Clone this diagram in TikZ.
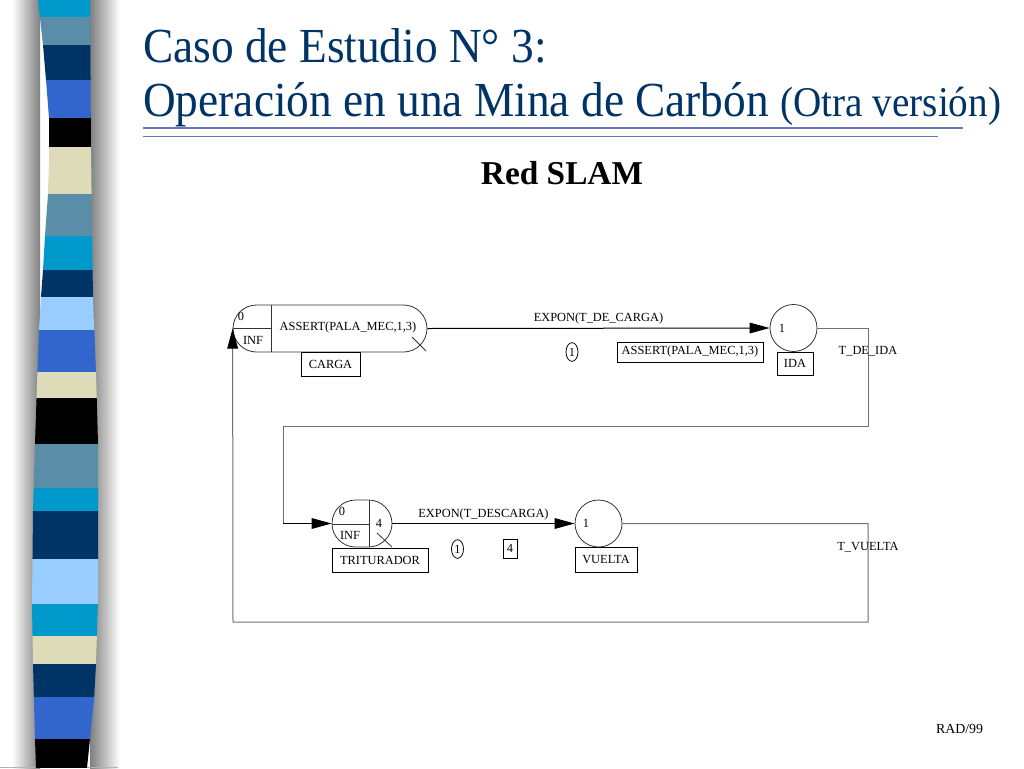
\documentclass[tikz,border=0pt]{standalone}
\usepackage{fontspec}
\setmainfont{Liberation Serif}
\usetikzlibrary{shapes.misc,shapes.geometric,arrows.meta}
\definecolor{titleblue}{HTML}{003366}
\definecolor{rulecol}{HTML}{6677BB}
\definecolor{scyan}{HTML}{0099CC}
\definecolor{ssteel}{HTML}{5A8EA8}
\definecolor{snavy}{HTML}{003366}
\definecolor{sroyal}{HTML}{3366CC}
\definecolor{sbeige}{HTML}{DEDCB8}
\definecolor{slight}{HTML}{99CCFF}
\definecolor{loopgray}{HTML}{707070}
\begin{document}
\begin{tikzpicture}[x=0.75pt,y=-0.75pt,
  lbl/.style={font=\fontsize{9.3}{10}\selectfont, inner sep=0pt},
  lblbox/.style={draw, line width=0.6pt, font=\fontsize{9.3}{10}\selectfont, inner sep=0pt},
  tok/.style={draw, ellipse, line width=0.6pt, font=\fontsize{9.3}{10}\selectfont, inner sep=0pt, minimum width=9pt, minimum height=14pt},
  place/.style={draw=black!80, circle, line width=0.6pt, inner sep=0pt, minimum size=35.25pt},
  act/.style={draw=black!80, rounded rectangle, line width=0.6pt, inner sep=0pt, minimum height=35.25pt},
  arr/.style={line width=0.75pt, -{Triangle[length=15pt,width=8pt]}},
  loopline/.style={line width=0.75pt, draw=loopgray},
  looparr/.style={line width=0.75pt, draw=loopgray, -{Triangle[length=15pt,width=8pt,color=black]}},
  thin/.style={line width=0.6pt, draw=black!80}]
\useasboundingbox (0,0) rectangle (1024,768);
\fill[white] (0,0) rectangle (1024,768);
% side stripe shadow
\shade[left color=white, right color=black!50] (12,0) rectangle (40,768);
\shade[left color=black!50, right color=white] (90,0) rectangle (120,768);
\draw[black!30, line width=0.75pt] (0,767) -- (118,767);
\begin{scope}
\clip (38,0) -- (43,45) -- (46,80) -- (49,118) -- (49,160) -- (48,194) -- (45,236) -- (43,270) -- (41,297) -- (39,330) -- (37,384) -- (35,444) -- (33,511) -- (32,604) -- (33,664) -- (35,739) -- (36,768) -- (87,768) -- (90,739) -- (94,700) -- (96,664) -- (98,600) -- (98,444) -- (96,372) -- (93,300) -- (91,150) -- (90,0) -- cycle;
\foreach \ya/\yb/\c in {0/17/scyan,17/45/ssteel,45/80/snavy,80/118/sroyal,118/147/black,147/194/sbeige,194/236/ssteel,236/270/scyan,270/297/snavy,297/330/slight,330/372/sroyal,372/398/sbeige,398/444/black,444/488/ssteel,488/511/scyan,511/559/snavy,559/604/slight,604/636/scyan,636/664/sbeige,664/697/snavy,697/739/sroyal,739/768/black}
  \fill[\c] (0,\ya) rectangle (120,\yb);
\end{scope}
% title
\node[anchor=base west, inner sep=0pt, text=titleblue, font=\fontsize{34}{40}\selectfont] (t1) at (143,62) {\scalebox{1}[1.08]{Caso de Estudio N° 3:}};
\node[anchor=base west, inner sep=0pt, text=titleblue, font=\fontsize{34}{40}\selectfont] (t2) at (143,116) {\scalebox{1}[1.08]{Operación en una Mina de Carbón {\fontsize{29.4}{34}\selectfont (Otra versión)}}};
\draw[rulecol, line width=1.5pt] (143,128) -- (963,128);
\draw[rulecol, line width=0.75pt] (143,136) -- (938,136);
\node[anchor=base, inner sep=0pt, font=\bfseries\fontsize{25}{30}\selectfont] (sub) at (562,184) {Red SLAM};
\node[anchor=base, inner sep=0pt, font=\fontsize{10.4}{12}\selectfont] (foot) at (959.5,733) {RAD/99};
% CARGA activity
\node[act, minimum width=145.5pt] (carga) at (330,328.5) {};
\draw[thin] (271,305) -- (271,352);
\draw[thin] (233,328.5) -- (271,328.5);
\draw[thin] (412,337) -- (426,351);
\node[lbl] (c0) at (241,316) {0};
\node[lbl] (cinf) at (253,340) {INF};
\node[lbl] (cact) at (348,328) {ASSERT(PALA\_MEC,1,3)};
\node[lblbox, minimum width=44.25pt, minimum height=18pt] (cargabox) at (330.5,364) {CARGA};
% IDA place
\node[place] (ida) at (793.5,328) {};
\node[lbl] (ida1) at (782,328) {1};
\node[lblbox, minimum width=27pt, minimum height=17.25pt] (idabox) at (795,363.5) {IDA};
% TRITURADOR activity
\node[act, minimum width=45pt] (trit) at (362,523.5) {};
\draw[thin] (369,500) -- (369,547);
\draw[thin] (332,524) -- (369,524);
\draw[thin] (377,533) -- (392,547);
\node[lbl] (t0) at (342,511) {0};
\node[lbl] (tinf) at (350,535) {INF};
\node[lbl] (t4) at (379,523) {4};
\node[lblbox, minimum width=72pt, minimum height=18pt] (tritbox) at (380,560) {TRITURADOR};
% VUELTA place
\node[place] (vuelta) at (598.5,523.5) {};
\node[lbl] (v1) at (586,523) {1};
\node[lblbox, minimum width=46.5pt, minimum height=18.75pt] (vueltabox) at (606,559.5) {VUELTA};
% activity arcs
\draw[arr] (carga.east) -- node[lbl, above=2.5pt] (l1) {EXPON(T\_DE\_CARGA)} (ida.west);
\node[tok] (tok1) at (572,352) {1};
\node[lblbox, minimum width=109.5pt, minimum height=15pt] (assertbox) at (690,352) {ASSERT(PALA\_MEC,1,3)};
\draw[arr] (trit.east) -- node[lbl, above=2.5pt] (l2) {EXPON(T\_DESCARGA)} (vuelta.west);
\node[tok] (tok2) at (457.5,549) {1};
\node[lblbox, minimum width=10.5pt, minimum height=14.25pt] (fourbox) at (510,548.5) {4};
% loops
\coordinate (a1) at (868,328);
\coordinate (a2) at (868,426);
\coordinate (a3) at (283,426);
\coordinate (a4) at (283,523.5);
\draw[loopline] (ida.east) -- (a1) -- (a2) -- (a3) -- (a4);
\draw[arr] (a4) -- (trit.west);
\coordinate (b1) at (868,523.5);
\coordinate (b2) at (868,622);
\coordinate (b3) at (233,622);
\draw[looparr] (vuelta.east) -- (b1) -- (b2) -- (b3) -- (carga.west);
\node[lbl] (lida) at (868,351) {T\_DE\_IDA};
\node[lbl] (lvuelta) at (868,547) {T\_VUELTA};
\end{tikzpicture}
\end{document}
